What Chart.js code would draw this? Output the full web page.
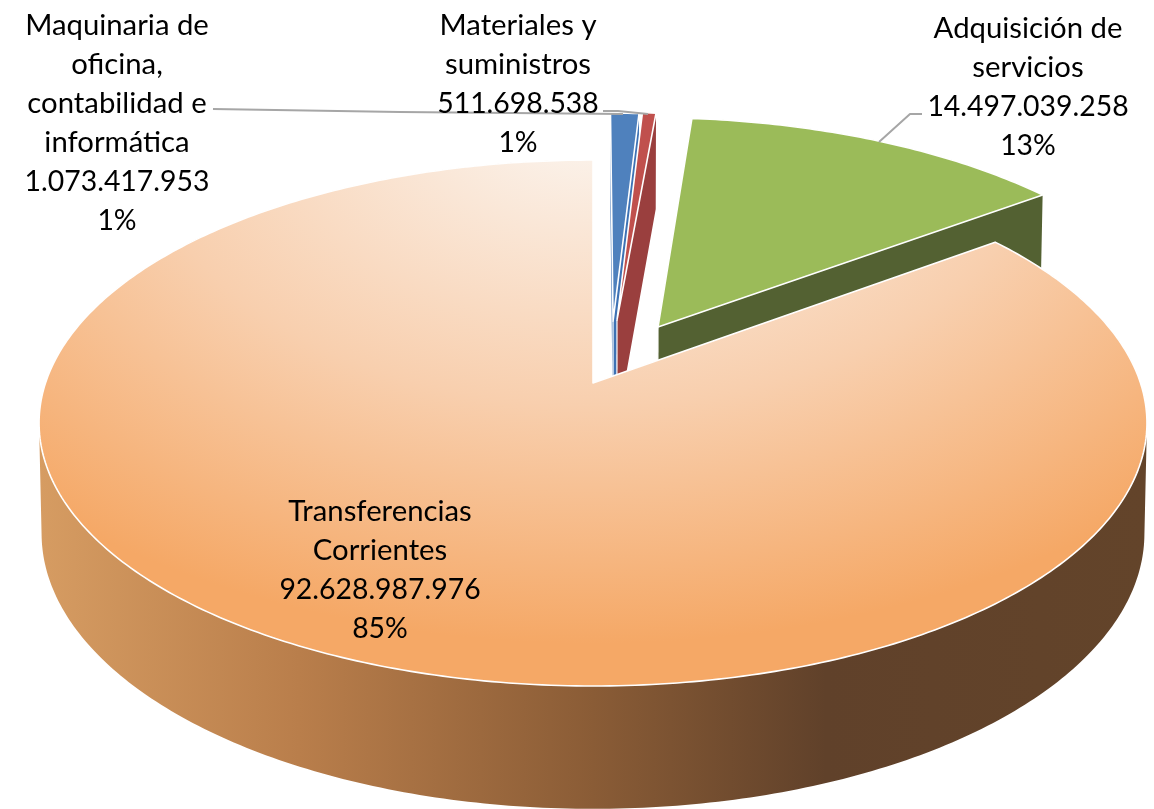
<!DOCTYPE html>
<html lang="es">
<head>
<meta charset="utf-8">
<title>Pie 3D</title>
<style>html,body{margin:0;padding:0;background:#fff}#wrap{width:1154px;height:809px}canvas{display:block}</style>
<script src="https://cdn.jsdelivr.net/npm/chart.js@4"></script>
</head>
<body>
<div id="wrap"><canvas id="c" width="1154" height="809"></canvas></div>
<script>
const categories = ['Maquinaria de oficina, contabilidad e informática', 'Materiales y suministros', 'Adquisición de servicios', 'Transferencias Corrientes'];
const values = [1073417953, 511698538, 14497039258, 92628987976];
const percents = ['1%', '1%', '13%', '85%'];
const labelLines = [
  ['Maquinaria de', 'oficina,', 'contabilidad e', 'informática'],
  ['Materiales y', 'suministros'],
  ['Adquisición de', 'servicios'],
  ['Transferencias', 'Corrientes']
];
const topColors = ['#4F81BD', '#C0504D', '#9BBB59', null];
const sideColors = ['#3E72B4', '#9A3F3E', '#536132', null];
const explodeU = [0.038, 0.0455, 0.1228, 0];
const explodeV = [0.25, 0.2547, 0.2254, 0];
const labelX = [117, 518, 1028, 380];
const labelY = [26, 26, 29, 512];
const lineGap = 39;
const leaders = [
  [[213, 109], [400, 112], [623, 114]],
  [[603, 111], [618, 111], [648, 114]],
  [[922, 114], [910, 114], [879, 142]]
];

const K = 0.1521;
const TOP = {cx: 593, cy: 383, a: 256.9, b: 547.5};
const BOT = {cx: 593, cy: 491.6, a: 269, b: 545};
function project(plane, u, v) {
  const w = 1 + K * v;
  return [plane.cx + plane.b * u / w, plane.cy - plane.a * v / w];
}
function rimPoints(arc, i, plane) {
  const pts = [];
  const n = Math.max(2, Math.ceil((arc.endAngle - arc.startAngle) / (Math.PI / 240)));
  for (let s = 0; s <= n; s++) {
    const t = arc.startAngle + (arc.endAngle - arc.startAngle) * s / n;
    pts.push(project(plane, explodeU[i] + Math.cos(t), explodeV[i] - Math.sin(t)));
  }
  return pts;
}
function poly(ctx, pts) {
  ctx.beginPath();
  addPoly(ctx, pts);
}
function addPoly(ctx, pts) {
  pts.forEach((p, j) => j ? ctx.lineTo(p[0], p[1]) : ctx.moveTo(p[0], p[1]));
  ctx.closePath();
}
function addQuad(ctx, pts) {
  let area = 0;
  pts.forEach((p, j) => {
    const q = pts[(j + 1) % pts.length];
    area += p[0] * q[1] - q[0] * p[1];
  });
  addPoly(ctx, area < 0 ? pts.slice().reverse() : pts);
}
const pie3d = {
  id: 'pie3d',
  beforeDatasetsDraw(chart) {
    const ctx = chart.ctx;
    const arcs = chart.getDatasetMeta(0).data;
    const sideGrad = ctx.createLinearGradient(39, 0, 1147, 0);
    [[0, '#D69C62'], [0.235, '#B97E4B'], [0.5, '#8A5C36'], [0.71, '#60412A'], [1, '#63442A']]
      .forEach(s => sideGrad.addColorStop(s[0], s[1]));
    const topGrad = ctx.createRadialGradient(0, 0, 30, 0, 0, 560);
    [[0, '#FBF3EC'], [0.5, '#F8CFAE'], [0.95, '#F5A866'], [1, '#F5A866']]
      .forEach(s => topGrad.addColorStop(s[0], s[1]));
    arcs.forEach((arc, i) => {
      const side = sideColors[i] || sideGrad;
      const up = rimPoints(arc, i, TOP);
      const dn = rimPoints(arc, i, BOT);
      const v0 = project(TOP, explodeU[i], explodeV[i]);
      const v1 = project(BOT, explodeU[i], explodeV[i]);
      ctx.fillStyle = side;
      ctx.beginPath();
      for (let q = 0; q < up.length - 1; q++) {
        addQuad(ctx, [up[q], up[q + 1], dn[q + 1], dn[q]]);
      }
      addQuad(ctx, [v0, up[0], dn[0], v1]);
      addQuad(ctx, [v0, up[up.length - 1], dn[dn.length - 1], v1]);
      ctx.fill('nonzero');
      if (topColors[i]) {
        ctx.strokeStyle = '#FFFFFF';
        ctx.lineWidth = 1.2;
        ctx.beginPath();
        ctx.moveTo(v0[0], v0[1]);
        ctx.lineTo(v1[0], v1[1]);
        ctx.stroke();
      }
      poly(ctx, [v0].concat(up));
      ctx.save();
      if (topColors[i]) {
        ctx.fillStyle = topColors[i];
      } else {
        ctx.translate(593, 110);
        ctx.scale(1.55, 1);
        ctx.fillStyle = topGrad;
      }
      ctx.fill();
      ctx.restore();
      ctx.strokeStyle = '#FFFFFF';
      ctx.lineWidth = 1.6;
      ctx.lineJoin = 'round';
      ctx.stroke();
    });
    return false;
  },
  afterDraw(chart) {
    const ctx = chart.ctx;
    ctx.save();
    ctx.strokeStyle = '#A6A6A6';
    ctx.lineWidth = 2;
    leaders.forEach(l => {
      ctx.beginPath();
      l.forEach((p, j) => j ? ctx.lineTo(p[0], p[1]) : ctx.moveTo(p[0], p[1]));
      ctx.stroke();
    });
    ctx.fillStyle = '#000000';
    ctx.textAlign = 'center';
    ctx.textBaseline = 'middle';
    values.forEach((val, i) => {
      const lines = labelLines[i].concat([String(val).replace(/\B(?=(\d{3})+$)/g, '.'), percents[i]]);
      lines.forEach((t, j) => {
        ctx.font = (j >= labelLines[i].length ? '28.4px' : '29.3px') + ' Lato';
        ctx.fillText(t, labelX[i], labelY[i] + j * lineGap);
      });
    });
    ctx.restore();
  }
};
new Chart(document.getElementById('c'), {
  type: 'pie',
  data: {labels: categories, datasets: [{data: values, backgroundColor: topColors.map(c => c || '#F5A866')}]},
  options: {
    responsive: false,
    animation: false,
    rotation: 0,
    plugins: {legend: {display: false}, tooltip: {enabled: false}}
  },
  plugins: [pie3d]
});
</script>
</body>
</html>
